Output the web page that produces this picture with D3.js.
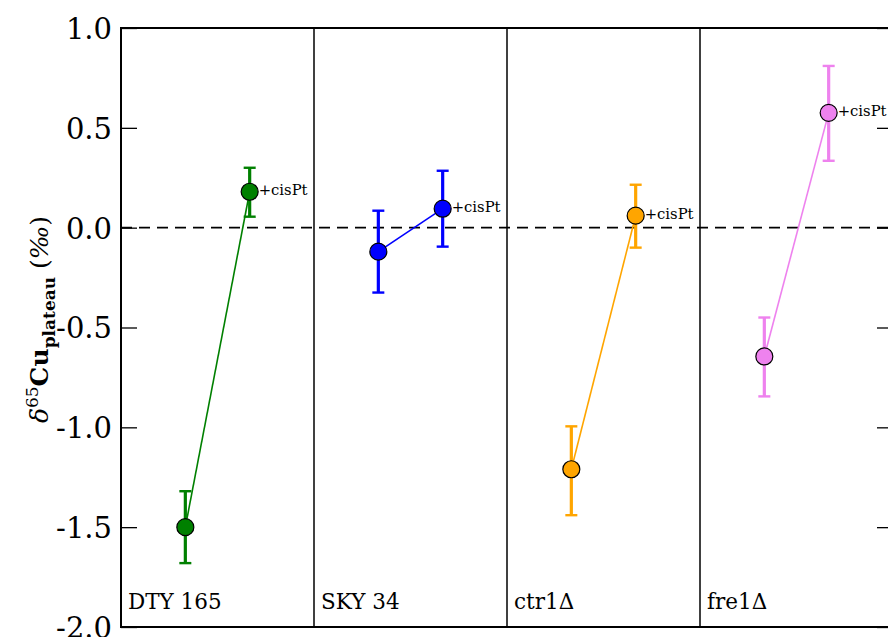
<!DOCTYPE html>
<html><head><meta charset="utf-8">
<script src="https://cdn.jsdelivr.net/npm/d3@7"></script>
<style>body{margin:0;background:#fff}svg{display:block}</style>
</head><body>
<svg id="c" width="888" height="637"></svg>
<script>
const strains = ["DTY 165", "SKY 34", "ctr1\u0394", "fre1\u0394"];
const colors = ["green", "blue", "orange", "violet"];
const controlVals = [-1.50, -0.12, -1.21, -0.645];
const controlErrLo = [-1.68, -0.325, -1.44, -0.845];
const controlErrHi = [-1.32, 0.085, -0.995, -0.45];
const cisptVals = [0.18, 0.095, 0.06, 0.575];
const cisptErrLo = [0.055, -0.095, -0.10, 0.335];
const cisptErrHi = [0.30, 0.285, 0.215, 0.81];
const yTicks = [1.0, 0.5, 0.0, -0.5, -1.0, -1.5, -2.0];
const pointLabel = "+cisPt";

const svg = d3.select("#c");
const L = 121, T = 28, B = 627, PW = 193;
const font = "'DejaVu Serif', 'Liberation Serif', serif";
const y = d3.scaleLinear().domain([-2, 1]).range([B, T]);
const px = d3.scaleBand().domain(strains).range([L, L + PW * strains.length]);
const xin = d3.scaleLinear().domain([0, 3]).range([0, PW]);

// zero dashed line
svg.append("line").attr("x1", L).attr("x2", L + PW * 4).attr("y1", y(0)).attr("y2", y(0))
  .attr("stroke", "#000").attr("stroke-width", 1.6).attr("stroke-dasharray", "11,7");

// left axis with inward ticks
const ax = svg.append("g").attr("transform", `translate(${L},0)`)
  .call(d3.axisRight(y).tickValues(yTicks).tickSize(16).tickFormat(d3.format(".1f")));
ax.select(".domain").remove();
ax.selectAll(".tick line").attr("stroke", "#000").attr("stroke-width", 1.3);
ax.selectAll(".tick text").remove();
ax.selectAll(".tick").append("text").attr("x", -9).attr("dy", "0.36em")
  .attr("text-anchor", "end").attr("font-family", font).attr("font-size", 29).attr("fill", "#000")
  .text(d => d3.format(".1f")(d).replace("−", "-"));
// right axis ticks
const ax2 = svg.append("g").attr("transform", `translate(${L + PW * 4},0)`)
  .call(d3.axisLeft(y).tickValues(yTicks).tickSize(16).tickFormat(""));
ax2.select(".domain").remove();
ax2.selectAll(".tick line").attr("stroke", "#000").attr("stroke-width", 1.3);

// panels
strains.forEach((s, i) => {
  const g = svg.append("g").attr("transform", `translate(${px(s)},0)`);
  const x1 = xin(1), x2 = xin(2);
  const c = colors[i];
  g.append("line").attr("x1", x1).attr("x2", x2).attr("y1", y(controlVals[i])).attr("y2", y(cisptVals[i]))
    .attr("stroke", c).attr("stroke-width", 1.6);
  const errs = [[x1, controlErrLo[i], controlErrHi[i]], [x2, cisptErrLo[i], cisptErrHi[i]]];
  errs.forEach(([xx, lo, hi]) => {
    g.append("line").attr("x1", xx).attr("x2", xx).attr("y1", y(lo)).attr("y2", y(hi))
      .attr("stroke", c).attr("stroke-width", 3.2);
    [lo, hi].forEach(v => g.append("line").attr("x1", xx - 6).attr("x2", xx + 6).attr("y1", y(v)).attr("y2", y(v))
      .attr("stroke", c).attr("stroke-width", 2.4));
  });
  [[x1, controlVals[i]], [x2, cisptVals[i]]].forEach(([xx, v]) => {
    g.append("circle").attr("cx", xx).attr("cy", y(v)).attr("r", 8.5)
      .attr("fill", c).attr("stroke", "#000").attr("stroke-width", 1.2);
  });
  g.append("text").attr("x", x2 + 9).attr("y", y(cisptVals[i])).attr("dy", "0.2em")
    .attr("font-family", font).attr("font-size", 14.8).attr("fill", "#000").text(pointLabel);
  g.append("text").attr("x", 7).attr("y", 609)
    .attr("font-family", font).attr("font-size", 21.5).attr("fill", "#000").text(s);
  if (i > 0) g.append("line").attr("x1", 0).attr("x2", 0).attr("y1", T).attr("y2", B)
    .attr("stroke", "#000").attr("stroke-width", 1.5);
});

// frame
svg.append("rect").attr("x", L).attr("y", T).attr("width", PW * 4).attr("height", B - T)
  .attr("fill", "none").attr("stroke", "#000").attr("stroke-width", 2);

// y label
const yl = svg.append("text").attr("transform", `translate(48,${(T + B) / 2 - 8}) rotate(-90)`)
  .attr("text-anchor", "middle").attr("font-family", font).attr("font-size", 25).attr("fill", "#000");
yl.append("tspan").attr("font-style", "italic").text("\u03b4");
yl.append("tspan").attr("font-size", 17).attr("dy", -10).text("65");
yl.append("tspan").attr("font-weight", "bold").attr("dy", 10).text("Cu");
yl.append("tspan").attr("font-weight", "bold").attr("font-size", 17).attr("dy", 7).text("plateau");
yl.append("tspan").attr("dy", -7).text(" (");
yl.append("tspan").attr("font-style", "italic").text("\u2030");
yl.append("tspan").text(")");
</script>
</body></html>
